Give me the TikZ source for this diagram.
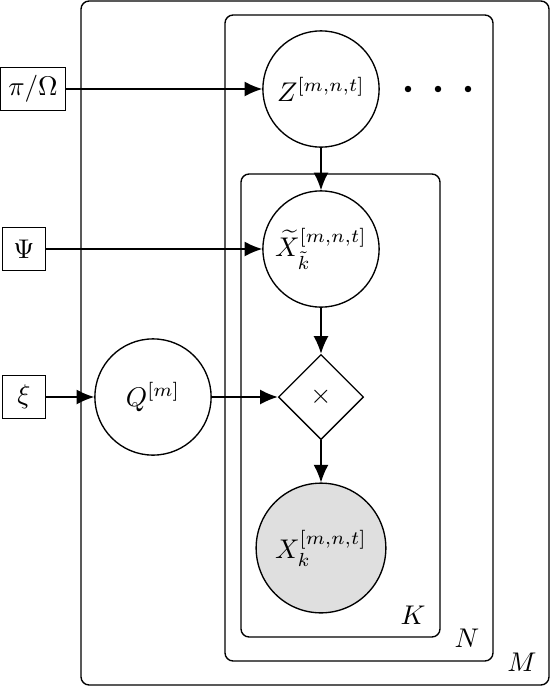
\documentclass[tikz,border=0pt]{standalone}
\usetikzlibrary{arrows.meta,shapes.geometric}
\begin{document}
\begin{tikzpicture}[x=0.37pt,y=-0.37pt,line width=0.5pt,
  >={Latex[length=6.5pt,width=5.5pt]},
  latent/.style={circle,draw,minimum size=43pt,inner sep=0pt},
  obs/.style={latent,fill=gray!25,minimum size=48pt},
  param/.style={rectangle,draw,minimum size=16pt,inner sep=3pt},
  factor/.style={diamond,draw,minimum size=31.5pt,inner sep=0pt},
  plate/.style={draw,rounded corners=3pt}]
  \useasboundingbox (0,0) rectangle (551,686);
  % plates M, N, K
  \draw[plate] (81,1) rectangle (549,685);
  \draw[plate] (225,15) rectangle (493,661);
  \draw[plate] (241,174) rectangle (440,637);
  \node (lM) at (522,662) {$M$};
  \node (lN) at (467,638) {$N$};
  \node (lK) at (413,615) {$K$};
  % parameters
  \node[param] (pi) at (33,89) {$\pi/\Omega$};
  \node[param] (psi) at (24,249) {$\Psi$};
  \node[param] (xi) at (24,397) {$\xi$};
  % variables
  \node[latent] (Z) at (321,89) {$Z^{[m,n,t]}$};
  \node[latent] (Xt) at (321,249) {$\widetilde{X}_{\tilde{k}}^{[m,n,t]}$};
  \node[latent] (Q) at (153,397) {$Q^{[m]}$};
  \node[factor] (prod) at (321,397) {$\times$};
  \node[obs] (X) at (321,548) {$X_k^{[m,n,t]}$};
  \foreach \x in {408,438,468} {
    \fill (\x,89) circle (1.2pt);
  }
  % edges
  \draw[->] (pi) -- (Z);
  \draw[->] (psi) -- (Xt);
  \draw[->] (xi) -- (Q);
  \draw[->] (Z) -- (Xt);
  \draw[->] (Xt) -- (prod);
  \draw[->] (Q) -- (prod);
  \draw[->] (prod) -- (X);
\end{tikzpicture}
\end{document}
